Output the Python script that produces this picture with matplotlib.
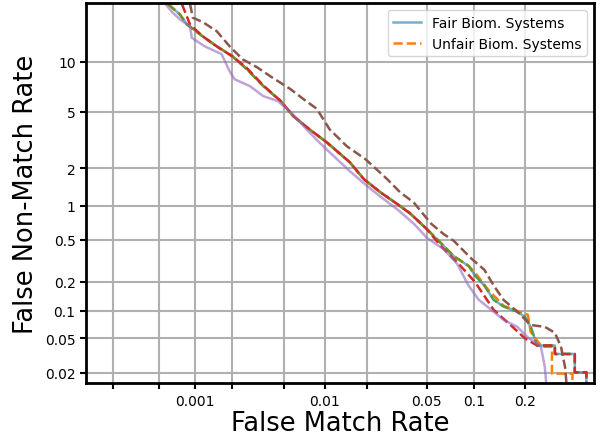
import numpy as np
import matplotlib
matplotlib.use('Agg')
import matplotlib.pyplot as plt
from matplotlib.ticker import FixedLocator, FixedFormatter, NullLocator
from statistics import NormalDist

# DET curves, (FMR %, FNMR %) operating points
fair_fmr = [0.0006, 0.00075, 0.00086, 0.00116, 0.0015, 0.002, 0.0026, 0.00348, 0.00471, 0.00585,
            0.0077, 0.0103, 0.015, 0.0189, 0.0245, 0.0319, 0.0388, 0.05, 0.0615, 0.0744,
            0.092, 0.101, 0.115, 0.131, 0.15, 0.181, 0.2, 0.216, 0.235, 0.296, 0.296,
            0.381, 0.381, 0.44, 0.44]
fair_fnmr = [19.4, 17.4, 15.6, 13.6, 12.1, 10.7, 9.07, 7.23, 5.86, 4.69,
             3.82, 3.10, 2.22, 1.64, 1.29, 1.03, 0.86, 0.626, 0.469, 0.353,
             0.285, 0.229, 0.182, 0.13, 0.111, 0.0975, 0.086, 0.067, 0.0415, 0.0415, 0.0332,
             0.0332, 0.0202, 0.0202, 0.009]

unfair_fmr = [0.0006, 0.00075, 0.00086, 0.00116, 0.0015, 0.002, 0.0026, 0.00348, 0.00471, 0.00585,
              0.0077, 0.0103, 0.015, 0.0189, 0.0245, 0.0319, 0.0388, 0.05, 0.0615, 0.0744,
              0.092, 0.101, 0.1214, 0.15, 0.208, 0.216, 0.25, 0.285, 0.285, 0.37, 0.37]
unfair_fnmr = [19.4, 17.4, 15.6, 13.6, 12.1, 10.7, 9.07, 7.23, 5.86, 4.69,
               3.82, 3.10, 2.22, 1.64, 1.29, 1.03, 0.86, 0.626, 0.469, 0.353,
               0.285, 0.245, 0.165, 0.113, 0.0905, 0.059, 0.0401, 0.0401, 0.0195, 0.0195, 0.009]

red_fmr = [0.00078, 0.00091, 0.00116, 0.0015, 0.002, 0.0026, 0.00348, 0.00471, 0.00585,
           0.0077, 0.0103, 0.015, 0.0189, 0.0245, 0.0319, 0.0388, 0.05, 0.0615, 0.0795,
           0.101, 0.131, 0.165, 0.2, 0.235, 0.296, 0.296, 0.381, 0.381, 0.44, 0.44]
red_fnmr = [19.4, 15.6, 13.6, 12.1, 10.7, 9.2, 7.3, 5.86, 4.69,
            3.82, 3.10, 2.22, 1.64, 1.29, 1.03, 0.86, 0.626, 0.44, 0.30,
            0.197, 0.102, 0.0701, 0.05, 0.0415, 0.0415, 0.0332, 0.0332, 0.0202, 0.0202, 0.009]

purple_fmr = [0.00056, 0.00065, 0.00075, 0.00091, 0.00094, 0.0012, 0.00164, 0.0019, 0.00208, 0.00274,
              0.00348, 0.00447, 0.00558, 0.0077, 0.0097, 0.015, 0.02, 0.0245, 0.0319, 0.0411,
              0.05, 0.0642, 0.0779, 0.092, 0.1064, 0.131, 0.15, 0.181, 0.208, 0.247, 0.26, 0.27]
purple_fnmr = [19.6, 17.8, 16.5, 15.3, 13.4, 12.1, 11.0, 8.83, 7.94, 7.23,
               6.28, 5.86, 5.0, 3.64, 2.91, 1.90, 1.44, 1.19, 0.93, 0.70,
               0.522, 0.411, 0.30, 0.182, 0.13, 0.0975, 0.0797, 0.0669, 0.051, 0.0401, 0.0233, 0.009]

brown_fmr = [0.00091, 0.00096, 0.00116, 0.0015, 0.0019, 0.00241, 0.00311, 0.00394, 0.00558, 0.0069,
             0.00874, 0.0108, 0.0143, 0.0194, 0.0273, 0.0333, 0.0411, 0.0532, 0.0642, 0.0744,
             0.0965, 0.115, 0.131, 0.15, 0.181, 0.216, 0.26, 0.296, 0.32, 0.337, 0.35]
brown_fnmr = [19.4, 16.8, 16.0, 14.45, 12.1, 10.3, 9.315, 8.26, 6.94, 6.06,
              5.22, 3.82, 2.91, 2.33, 1.64, 1.29, 1.06, 0.70, 0.564, 0.49,
              0.331, 0.261, 0.182, 0.13, 0.0975, 0.0703, 0.067, 0.0577, 0.0401, 0.0233, 0.009]

xticks = [0.0002, 0.0005, 0.001, 0.002, 0.005, 0.01, 0.02, 0.05, 0.1, 0.2]
xticklabels = ['', '', '0.001', '', '', '0.01', '', '0.05', '0.1', '0.2']
yticks = [0.02, 0.05, 0.1, 0.2, 0.5, 1, 2, 5, 10]
yticklabels = ['0.02', '0.05', '0.1', '0.2', '0.5', '1', '2', '5', '10']

_nd = NormalDist()
_ppf = np.vectorize(lambda p: _nd.inv_cdf(p), otypes=[float])
_cdf = np.vectorize(lambda z: _nd.cdf(z), otypes=[float])


def probit(v):
    p = np.clip(np.asarray(v, dtype=float) / 100.0, 1e-12, 1 - 1e-12)
    return _ppf(p)


def inv_probit(z):
    return _cdf(np.asarray(z, dtype=float)) * 100.0


fig = plt.figure(figsize=(6, 4.39), dpi=100)
ax = fig.add_axes([0.1433, 0.1246, 0.8467, 0.866])
ax.set_xscale('function', functions=(probit, inv_probit))
ax.set_yscale('function', functions=(probit, inv_probit))

lw = 1.8
ax.plot(fair_fmr, fair_fnmr, color='C0', lw=lw, alpha=0.6, label='Fair Biom. Systems')
ax.plot(unfair_fmr, unfair_fnmr, color='C1', lw=lw, ls='--', label='Unfair Biom. Systems')
ax.plot(fair_fmr, fair_fnmr, color='C2', lw=lw, ls='--', alpha=0.7)
ax.plot(red_fmr, red_fnmr, color='C3', lw=lw, ls='--')
ax.plot(purple_fmr, purple_fnmr, color='C4', lw=lw, alpha=0.6)
ax.plot(brown_fmr, brown_fnmr, color='C5', lw=lw, ls='--')

ax.set_xlim(0.000116, 0.483)
ax.set_ylim(0.0149, 19.6)

ax.xaxis.set_major_locator(FixedLocator(xticks))
ax.xaxis.set_major_formatter(FixedFormatter(xticklabels))
ax.yaxis.set_major_locator(FixedLocator(yticks))
ax.yaxis.set_major_formatter(FixedFormatter(yticklabels))
ax.xaxis.set_minor_locator(NullLocator())
ax.yaxis.set_minor_locator(NullLocator())
ax.tick_params(labelsize=10, width=1.5, length=4)
ax.grid(True, color='#b0b0b0', lw=1.5)
ax.set_axisbelow(True)
for s in ax.spines.values():
    s.set_linewidth(2)

ax.set_xlabel('False Match Rate', fontsize=18.5, labelpad=2)
ax.set_ylabel('False Non-Match Rate', fontsize=18.5, labelpad=4)
ax.legend(loc='upper right', fontsize=10)

fig.savefig('out.png', dpi=100)
